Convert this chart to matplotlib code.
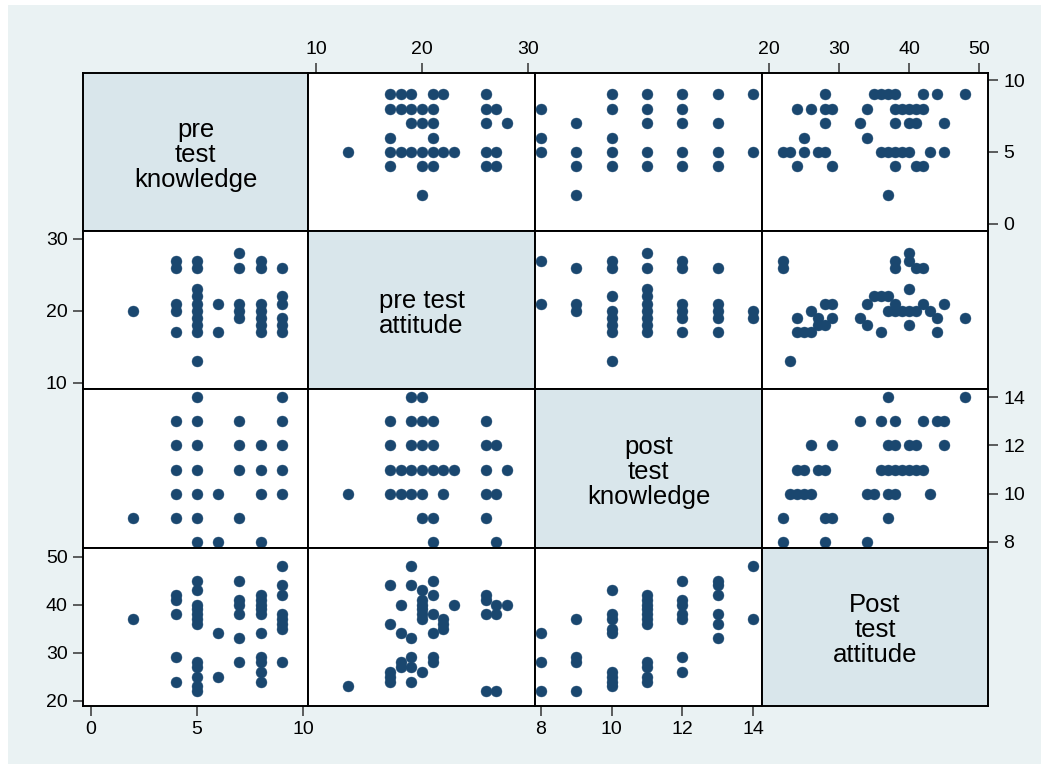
import matplotlib.pyplot as plt
from matplotlib.patches import Rectangle

plt.rcParams['font.family'] = ['Liberation Sans', 'DejaVu Sans']

# variable labels shown on the diagonal
labels = ['pre\ntest\nknowledge', 'pre test\nattitude',
          'post\ntest\nknowledge', 'Post\ntest\nattitude']

# pairwise scores: {first variable value: [second variable values]}
preknow_preatt = {2: [20], 4: [17, 20, 21, 26, 27],
                  5: [13, 17, 18, 19, 20, 21, 22, 23, 26, 27],
                  6: [17, 21], 7: [19, 20, 21, 26, 28],
                  8: [17, 18, 19, 20, 21, 26, 27],
                  9: [17, 18, 19, 21, 22, 26]}
preknow_postknow = {2: [9], 4: [9, 10, 11, 12, 13],
                    5: [8, 9, 10, 11, 12, 13, 14], 6: [8, 10],
                    7: [9, 11, 12, 13], 8: [8, 10, 11, 12],
                    9: [10, 11, 12, 13, 14]}
preknow_postatt = {2: [37], 4: [24, 29, 38, 41, 42],
                   5: [22, 23, 25, 27, 28, 36, 37, 38, 39, 40, 43, 45],
                   6: [25, 34], 7: [28, 33, 38, 40, 41, 45],
                   8: [24, 26, 28, 29, 34, 38, 39, 40, 41, 42],
                   9: [28, 35, 36, 37, 38, 42, 44, 48]}
preatt_postknow = {13: [10], 17: [10, 11, 12, 13], 18: [10, 11],
                   19: [10, 11, 12, 13, 14], 20: [9, 10, 11, 12, 13, 14],
                   21: [8, 9, 11, 12, 13], 22: [10, 11], 23: [11],
                   26: [9, 10, 11, 12, 13], 27: [8, 10, 12], 28: [11]}
preatt_postatt = {13: [23], 17: [24, 25, 26, 36, 44], 18: [27, 28, 34, 40],
                  19: [24, 27, 29, 33, 44, 48],
                  20: [26, 37, 38, 39, 40, 41, 43],
                  21: [28, 29, 34, 38, 42, 45], 22: [35, 36, 37], 23: [40],
                  26: [22, 38, 41, 42], 27: [22, 38, 40], 28: [40]}
postknow_postatt = {8: [22, 28, 34], 9: [22, 28, 29, 37],
                    10: [23, 24, 25, 26, 34, 35, 37, 38, 43],
                    11: [24, 25, 27, 28, 36, 37, 38, 39, 40, 41, 42],
                    12: [26, 29, 37, 38, 40, 41, 45],
                    13: [33, 36, 38, 42, 44, 45], 14: [37, 48]}

pairs = {(0, 1): preknow_preatt, (0, 2): preknow_postknow,
         (0, 3): preknow_postatt, (1, 2): preatt_postknow,
         (1, 3): preatt_postatt, (2, 3): postknow_postatt}

ticks = [[0, 5, 10], [10, 20, 30], [8, 10, 12, 14], [20, 30, 40, 50]]
xlims = [(-0.38, 10.24), (9.25, 30.66), (7.83, 14.25), (19.0, 51.29)]
ylims = [(-0.49, 10.49), (9.12, 31.11), (7.75, 14.34), (18.9, 51.8)]

navy = '#1a476f'
bg = '#eaf2f3'
diag = '#d9e6eb'

W, H = 1049, 769
col_edges = [83, 308, 535, 762, 988]
row_edges = [73, 231, 389, 548, 706]

fig = plt.figure(figsize=(W / 100, H / 100), dpi=100)
fig.patch.set_facecolor('white')
fig.add_artist(Rectangle((8 / W, 5 / H), (W - 16) / W, (H - 10) / H,
                         transform=fig.transFigure, facecolor=bg,
                         edgecolor='none', zorder=0))


def expand(d):
    xs, ys = [], []
    for k, vals in d.items():
        xs += [k] * len(vals)
        ys += vals
    return xs, ys


for r in range(4):
    for c in range(4):
        x0, x1 = col_edges[c], col_edges[c + 1]
        y0, y1 = row_edges[r], row_edges[r + 1]
        ax = fig.add_axes([x0 / W, 1 - y1 / H, (x1 - x0) / W, (y1 - y0) / H])
        ax.set_xlim(xlims[c])
        ax.set_ylim(ylims[r])
        ax.set_xticks([])
        ax.set_yticks([])
        for s in ax.spines.values():
            s.set_linewidth(1.4)
            s.set_color('black')

        if r == c:
            ax.set_facecolor(diag)
            ax.text(0.5, 0.48, labels[r], transform=ax.transAxes,
                    ha='center', va='center', multialignment='center',
                    fontsize=18.5, linespacing=1.05)
        else:
            if c < r:
                xs, ys = expand(pairs[(c, r)])
            else:
                ys, xs = expand(pairs[(r, c)])
            ax.scatter(xs, ys, s=62, color=navy, edgecolors=navy,
                       linewidths=0.3, zorder=3)

        tick_kw = dict(direction='out', length=7, width=1.1,
                       color='#333333', labelsize=14, pad=4)
        if r == 3 and c in (0, 2):
            ax.set_xticks(ticks[c])
            ax.xaxis.set_ticks_position('bottom')
            ax.tick_params(axis='x', **tick_kw)
        if r == 0 and c in (1, 3):
            ax.set_xticks(ticks[c])
            ax.xaxis.tick_top()
            ax.tick_params(axis='x', **tick_kw)
        if c == 0 and r in (1, 3):
            ax.set_yticks(ticks[r])
            ax.yaxis.set_ticks_position('left')
            ax.tick_params(axis='y', **tick_kw)
        if c == 3 and r in (0, 2):
            ax.set_yticks(ticks[r])
            ax.yaxis.tick_right()
            ax.tick_params(axis='y', **tick_kw)

fig.savefig('out.png', dpi=100, facecolor=fig.get_facecolor())
